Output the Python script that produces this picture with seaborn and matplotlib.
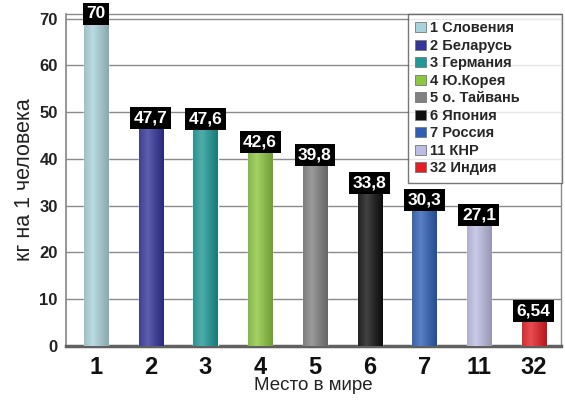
import numpy as np
import pandas as pd
import matplotlib
matplotlib.use("Agg")
import matplotlib.pyplot as plt
import matplotlib.colors as mcolors
from matplotlib.patches import Rectangle
import seaborn as sns

places = ["1", "2", "3", "4", "5", "6", "7", "11", "32"]
values = [70, 47.7, 47.6, 42.6, 39.8, 33.8, 30.3, 27.1, 6.54]
value_labels = ["70", "47,7", "47,6", "42,6", "39,8", "33,8", "30,3", "27,1", "6,54"]
legend_labels = ["1 Словения", "2 Беларусь", "3 Германия", "4 Ю.Корея", "5 о. Тайвань",
                 "6 Япония", "7 Россия", "11 КНР", "32 Индия"]
colors = ["#a9d3da", "#34349a", "#1f9996", "#8dc63f", "#808080",
          "#101010", "#2f5fb5", "#bdbde3", "#e31e24"]

sns.set_theme(style="white")
plt.rcParams["font.family"] = ["Liberation Sans", "DejaVu Sans"]

df = pd.DataFrame({"place": places, "value": values, "name": legend_labels})

fig = plt.figure(figsize=(5.65, 4.01), dpi=100)
ax = fig.add_axes([66 / 565, 1 - 346 / 401, (561 - 66) / 565, (346 - 14) / 401])

sns.barplot(data=df, x="place", y="value", hue="name", palette=colors,
            width=0.44, dodge=False, legend=False, ax=ax, saturation=1, zorder=3)

# cylinder-like shading over each bar
grad = np.linspace(0, 1, 64)
for patch, col in zip(ax.patches, colors):
    x0, y0 = patch.get_x(), patch.get_y()
    w, h = patch.get_width(), patch.get_height()
    if h <= 0:
        continue
    base = np.array(mcolors.to_rgb(col))
    light = np.clip(base + (1 - base) * 0.35, 0, 1)
    img = np.zeros((1, 64, 3))
    for i, s in enumerate(grad):
        t = 1 - abs(s - 0.35) / 0.65
        img[0, i] = base * (1 - t * 0.6) + light * (t * 0.6)
        img[0, i] *= 0.8 + 0.2 * t
    im = ax.imshow(img, extent=(x0, x0 + w, y0, y0 + h), aspect="auto", zorder=3.5,
                   interpolation="bilinear")
    im.set_clip_path(patch)

ax.set_xlim(-0.55, 8.5)
ax.set_ylim(0, 71)
ax.set_yticks(range(0, 71, 10))
ax.yaxis.grid(True, color="#8a8a8a", linewidth=1.0, zorder=0)
ax.set_axisbelow(True)

for s in ["top", "right"]:
    ax.spines[s].set_color("#8a8a8a")
    ax.spines[s].set_linewidth(1.0)
ax.spines["left"].set_color("#8a8a8a")
ax.spines["bottom"].set_color("#606060")
ax.spines["bottom"].set_linewidth(2.5)

ax.tick_params(axis="y", labelsize=12, length=4, color="#666666", pad=2)
ax.tick_params(axis="x", labelsize=17, length=0, pad=7)
for lab in ax.get_yticklabels():
    lab.set_fontweight("bold")
    lab.set_color("#222222")
for lab in ax.get_xticklabels():
    lab.set_fontweight("bold")
    lab.set_color("#111111")

ax.set_xlabel("Место в мире", fontsize=13.5, color="#222222", labelpad=-1)
ax.set_ylabel("кг на 1 человека", fontsize=15.5, color="#222222", labelpad=3)

# value tags at bar tops
for i, (v, t) in enumerate(zip(values, value_labels)):
    ax.text(i, v + 1.0, t, ha="center", va="center", fontsize=12.5, fontweight="bold",
            color="white", zorder=6,
            bbox=dict(boxstyle="square,pad=0.2", facecolor="black", edgecolor="none"))

# legend with square markers, stretched to a fixed-width box in the upper right
handles = [Rectangle((0, 0), 1, 1, facecolor=c, edgecolor="#777777", linewidth=0.6)
           for c in colors]
leg = ax.legend(handles, legend_labels, loc="upper left",
                bbox_to_anchor=(0.691, 0.0, 0.311, 1.0), mode="expand",
                prop={"size": 10.5, "weight": "bold"}, frameon=True, fancybox=False,
                handlelength=0.7, handleheight=0.7, handletextpad=0.3,
                labelspacing=0.24, borderpad=0.5, borderaxespad=0.0, edgecolor="#555555")
leg.get_frame().set_linewidth(1.0)
leg.set_zorder(7)

fig.savefig("out.png", dpi=100, facecolor="white")
